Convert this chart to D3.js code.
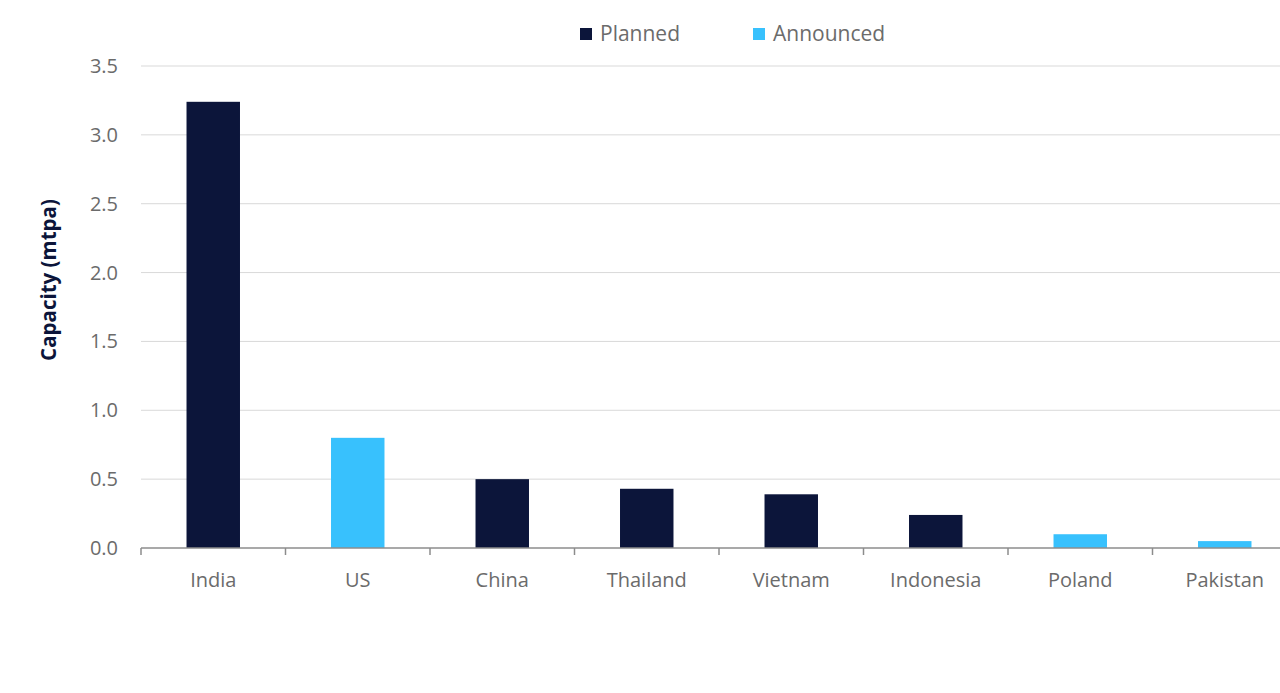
<!DOCTYPE html>
<html>
<head>
<meta charset="utf-8">
<script src="https://cdn.jsdelivr.net/npm/d3@7"></script>
<style>
  body { margin: 0; background: #fff; }
  text { font-family: "Open Sans", sans-serif; }
</style>
</head>
<body>
<div id="chart"></div>
<script>
// data
var countries = ["India", "US", "China", "Thailand", "Vietnam", "Indonesia", "Poland", "Pakistan"];
var capacity = [3.24, 0.80, 0.50, 0.43, 0.39, 0.24, 0.10, 0.05];
var projectStatus = ["Planned", "Announced", "Planned", "Planned", "Planned", "Planned", "Announced", "Announced"];
var seriesNames = ["Planned", "Announced"];
var yTicks = [0, 0.5, 1.0, 1.5, 2.0, 2.5, 3.0, 3.5];

var svgWidth = 1280;
var svgHeight = 693;

var margin = { top: 66, left: 141, bottom: 145 };
var height = svgHeight - margin.top - margin.bottom;
var width = 1156;

var svg = d3.select("#chart")
  .append("svg")
  .attr("width", svgWidth)
  .attr("height", svgHeight);

var chartGroup = svg.append("g")
  .attr("transform", `translate(${margin.left}, ${margin.top})`);

var xScale = d3.scaleBand()
  .domain(countries)
  .range([0, width])
  .paddingInner(0.63)
  .paddingOuter(0.315);

var yScale = d3.scaleLinear()
  .domain([0, 3.5])
  .range([height, 0]);

var colour = d3.scaleOrdinal()
  .domain(seriesNames)
  .range(["#0c153a", "#38c1fd"]);

// gridlines
chartGroup.selectAll(".grid")
  .data(yTicks.filter(d => d > 0))
  .enter()
  .append("line")
  .attr("x1", 0)
  .attr("x2", width)
  .attr("y1", d => yScale(d))
  .attr("y2", d => yScale(d))
  .attr("stroke", "#d9d9d9")
  .attr("stroke-width", 1);

// y tick labels
chartGroup.selectAll(".ylab")
  .data(yTicks)
  .enter()
  .append("text")
  .attr("x", -23)
  .attr("y", d => yScale(d))
  .attr("dy", "0.35em")
  .attr("text-anchor", "end")
  .attr("fill", "#6b6b6b")
  .style("font-size", "20px")
  .text(d => d.toFixed(1));

// bars
chartGroup.selectAll("rect")
  .data(countries)
  .enter()
  .append("rect")
  .attr("x", d => xScale(d))
  .attr("y", (d, i) => yScale(capacity[i]))
  .attr("width", xScale.bandwidth())
  .attr("height", (d, i) => height - yScale(capacity[i]))
  .attr("fill", (d, i) => colour(projectStatus[i]));

// x axis
var step = xScale.step();
var xAxis = chartGroup.append("g")
  .attr("transform", `translate(0, ${height})`);

xAxis.append("line")
  .attr("x1", 0)
  .attr("x2", width)
  .attr("stroke", "#8c8c8c")
  .attr("stroke-width", 1.5);

xAxis.selectAll(".tick")
  .data(d3.range(countries.length + 1))
  .enter()
  .append("line")
  .attr("x1", d => d * step)
  .attr("x2", d => d * step)
  .attr("y1", 0)
  .attr("y2", 7)
  .attr("stroke", "#8c8c8c")
  .attr("stroke-width", 1.5);

xAxis.selectAll(".xlab")
  .data(countries)
  .enter()
  .append("text")
  .attr("x", d => xScale(d) + xScale.bandwidth() / 2)
  .attr("y", 32)
  .attr("dy", "0.35em")
  .attr("text-anchor", "middle")
  .attr("fill", "#6b6b6b")
  .style("font-size", "20px")
  .text(d => d);

// y axis title
svg.append("text")
  .attr("transform", "translate(56, 280) rotate(-90)")
  .attr("text-anchor", "middle")
  .attr("fill", "#0c153a")
  .style("font-size", "20.5px")
  .style("font-weight", "bold")
  .text("Capacity (mtpa)");

// legend
var legendX = [580, 753];
var legend = svg.selectAll(".legend")
  .data(seriesNames)
  .enter()
  .append("g")
  .attr("transform", (d, i) => `translate(${legendX[i]}, 34)`);

legend.append("rect")
  .attr("x", 0)
  .attr("y", -6)
  .attr("width", 12)
  .attr("height", 12)
  .attr("fill", d => colour(d));

legend.append("text")
  .attr("x", 20)
  .attr("y", 0)
  .attr("dy", "0.35em")
  .attr("fill", "#6b6b6b")
  .style("font-size", "21px")
  .text(d => d);
</script>
</body>
</html>
